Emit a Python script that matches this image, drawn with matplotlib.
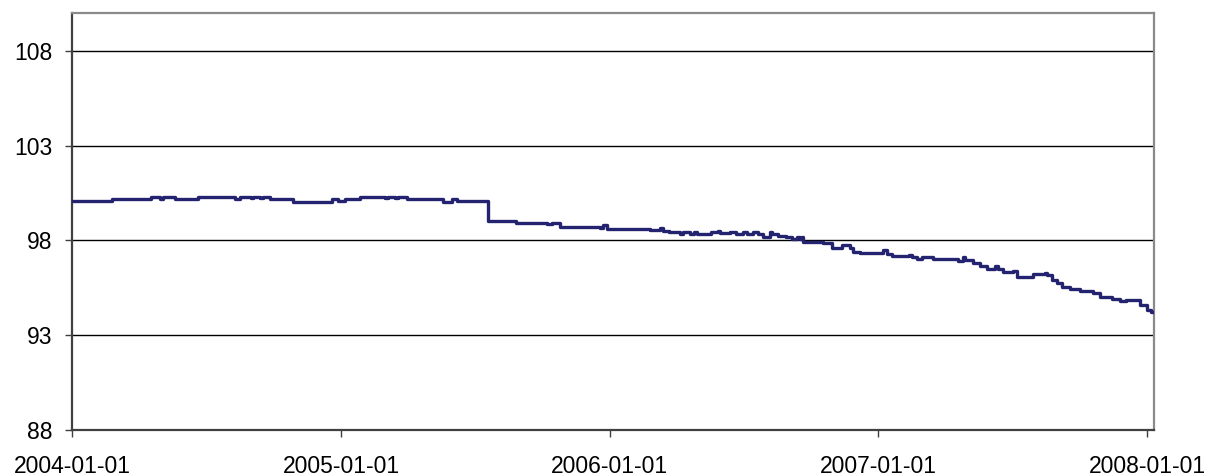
import numpy
import pandas as pd
from matplotlib import pyplot as plt
import matplotlib.dates as mdates

# index level, step changes
dates = ['2004-01-01', '2004-02-25', '2004-04-18', '2004-04-29', '2004-05-03',
         '2004-05-20', '2004-06-20', '2004-08-09', '2004-08-16', '2004-08-31',
         '2004-09-03', '2004-09-13', '2004-09-16', '2004-09-26', '2004-10-27',
         '2004-12-20', '2004-12-27', '2005-01-06', '2005-01-26', '2005-03-01',
         '2005-03-05', '2005-03-15', '2005-03-19', '2005-03-31', '2005-05-19',
         '2005-06-01', '2005-06-07', '2005-07-20', '2005-08-27', '2005-10-08',
         '2005-10-15', '2005-10-25', '2005-12-18', '2005-12-22', '2005-12-28',
         '2006-02-24', '2006-03-10', '2006-03-14', '2006-03-23', '2006-04-06',
         '2006-04-10', '2006-04-20', '2006-04-26', '2006-04-29', '2006-05-19',
         '2006-05-28', '2006-05-30', '2006-06-13', '2006-06-22', '2006-07-01',
         '2006-07-07', '2006-07-14', '2006-07-21', '2006-07-28', '2006-08-06',
         '2006-08-10', '2006-08-17', '2006-08-29', '2006-09-06', '2006-09-12',
         '2006-09-16', '2006-09-19', '2006-09-20', '2006-10-17', '2006-10-30',
         '2006-11-13', '2006-11-23', '2006-11-27', '2006-12-07', '2006-12-24',
         '2007-01-07', '2007-01-12', '2007-01-20', '2007-02-12', '2007-02-15',
         '2007-02-23', '2007-03-01', '2007-03-16', '2007-04-19', '2007-04-26',
         '2007-04-28', '2007-05-09', '2007-05-19', '2007-05-28', '2007-06-09',
         '2007-06-12', '2007-06-19', '2007-07-03', '2007-07-08', '2007-07-30',
         '2007-08-15', '2007-08-18', '2007-08-25', '2007-09-01', '2007-09-08',
         '2007-09-18', '2007-10-02', '2007-10-19', '2007-10-29', '2007-11-15',
         '2007-11-25', '2007-12-04', '2007-12-22', '2008-01-01', '2008-01-07',
         '2008-01-11']
values = [100.07, 100.18, 100.28, 100.18, 100.28,
          100.18, 100.31, 100.18, 100.31, 100.22,
          100.31, 100.22, 100.31, 100.18, 100.05,
          100.18, 100.07, 100.19, 100.31, 100.22,
          100.31, 100.22, 100.31, 100.19, 100.05,
          100.19, 100.07, 99.03, 98.94, 98.87,
          98.94, 98.73, 98.66, 98.82, 98.62,
          98.55, 98.67, 98.50, 98.43, 98.33,
          98.43, 98.33, 98.43, 98.33, 98.43,
          98.52, 98.37, 98.43, 98.33, 98.43,
          98.33, 98.46, 98.33, 98.20, 98.42,
          98.33, 98.24, 98.17, 98.07, 98.17,
          98.07, 98.17, 97.94, 97.85, 97.62,
          97.76, 97.59, 97.41, 97.32, 97.35,
          97.50, 97.29, 97.18, 97.23, 97.11,
          97.02, 97.14, 97.02, 96.92, 97.14,
          96.96, 96.82, 96.63, 96.48, 96.67,
          96.48, 96.34, 96.41, 96.09, 96.22,
          96.30, 96.18, 95.92, 95.77, 95.56,
          95.44, 95.34, 95.21, 95.03, 94.93,
          94.81, 94.86, 94.60, 94.33, 94.24,
          94.24]
x_ticks = ['2004-01-01', '2005-01-01', '2006-01-01', '2007-01-01', '2008-01-01']
y_ticks = [88, 93, 98, 103, 108]

plt.rcParams['font.family'] = ['Liberation Sans', 'DejaVu Sans']

fig = plt.figure(figsize=(12.11, 4.76), dpi=100)
ax = fig.add_axes([72 / 1211, 46 / 476, (1154 - 72) / 1211, (430 - 13) / 476])

ax.plot(pd.to_datetime(dates), values, drawstyle='steps-post',
        color='#24236f', lw=2.4, zorder=3)

ax.set_ylim(88, 110)
ax.set_xlim(pd.Timestamp('2004-01-01'), pd.Timestamp('2008-01-10 12:00'))
ax.set_yticks(y_ticks)
ax.set_xticks(pd.to_datetime(x_ticks))
ax.xaxis.set_major_formatter(mdates.DateFormatter('%Y-%m-%d'))
ax.grid(axis='y', color='black', lw=1.0)
ax.set_axisbelow(True)

ax.tick_params(axis='both', labelsize=16.5, length=5, width=1, color='#404040')
ax.tick_params(axis='y', pad=9)
ax.tick_params(axis='x', pad=13)

for s in ['left', 'bottom']:
    ax.spines[s].set_color('#404040')
    ax.spines[s].set_linewidth(1.6)
for s in ['top', 'right']:
    ax.spines[s].set_color('#8a8a8a')
    ax.spines[s].set_linewidth(1.6)

plt.savefig('out.png', dpi=100)
